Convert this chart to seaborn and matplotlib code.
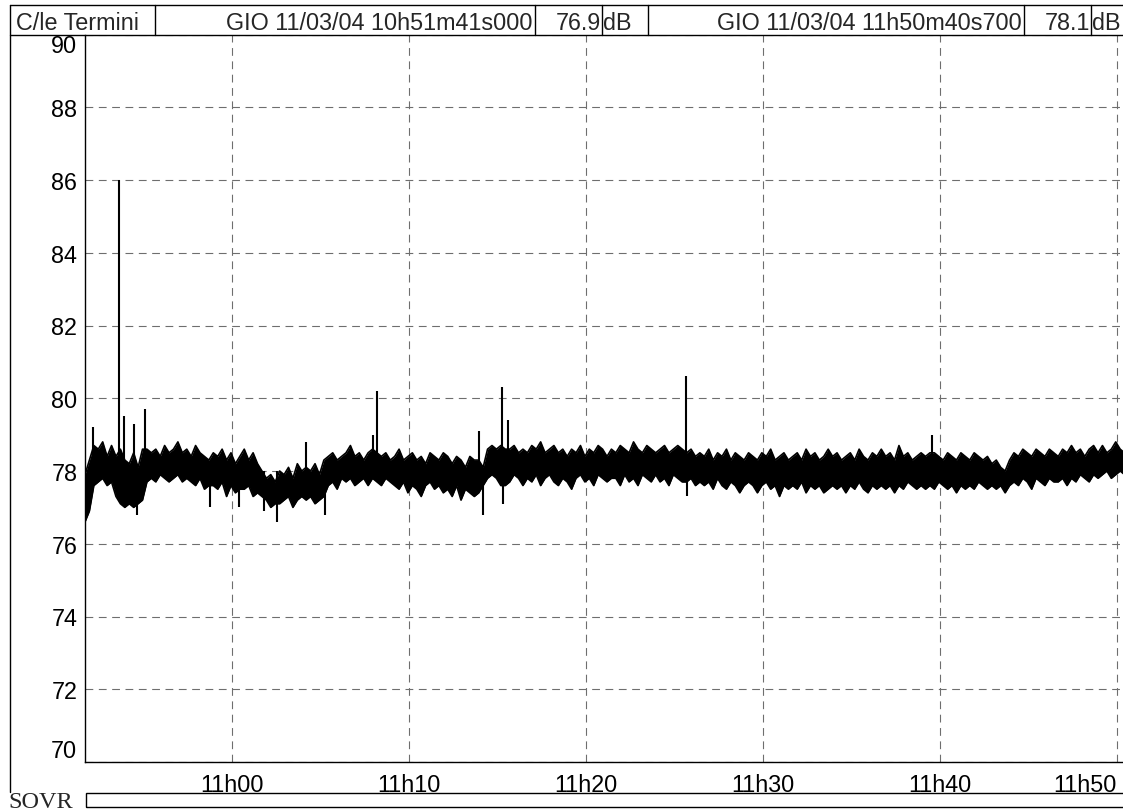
import numpy as np
import pandas as pd
import matplotlib
matplotlib.use('Agg')
import matplotlib.pyplot as plt
from matplotlib.lines import Line2D
from matplotlib.patches import Rectangle
import seaborn as sns

# header texts
station = 'C/le Termini'
start_label = 'GIO 11/03/04 10h51m41s000'
start_level = '76.9'
end_label = 'GIO 11/03/04 11h50m40s700'
end_level = '78.1'
unit = 'dB'
bar_label = 'SOVR'

# recording window
day = '2004-03-11 '
t_start = pd.Timestamp(day + '10:51:41')
t_end = pd.Timestamp(day + '11:50:41')
step = '15s'

# background level band per 15 s block (max / min)
level_max = [
    77.9, 78.3, 78.7, 78.6, 78.8, 78.4, 78.7, 78.4, 78.6, 78.3,
    78.2, 78.5, 78.1, 78.6, 78.6, 78.5, 78.6, 78.4, 78.7, 78.5,
    78.6, 78.8, 78.5, 78.6, 78.4, 78.7, 78.5, 78.4, 78.3, 78.5,
    78.4, 78.6, 78.3, 78.5, 78.2, 78.4, 78.6, 78.3, 78.5, 78.2,
    78.0, 77.8, 77.9, 77.7, 78.0, 77.9, 78.1, 77.8, 78.2, 78.0,
    78.1, 78.0, 78.2, 77.9, 78.3, 78.4, 78.5, 78.3, 78.4, 78.5,
    78.7, 78.4, 78.5, 78.3, 78.5, 78.6, 78.5, 78.4, 78.5, 78.3,
    78.4, 78.6, 78.3, 78.4, 78.5, 78.3, 78.4, 78.2, 78.5, 78.4,
    78.3, 78.5, 78.4, 78.2, 78.4, 78.3, 78.1, 78.4, 78.3, 78.3,
    78.1, 78.6, 78.7, 78.6, 78.7, 78.6, 78.6, 78.7, 78.5, 78.6,
    78.5, 78.7, 78.6, 78.8, 78.5, 78.6, 78.7, 78.5, 78.6, 78.4,
    78.6, 78.5, 78.7, 78.4, 78.6, 78.5, 78.7, 78.6, 78.4, 78.6,
    78.5, 78.7, 78.6, 78.5, 78.8, 78.6, 78.5, 78.7, 78.6, 78.5,
    78.6, 78.7, 78.5, 78.6, 78.7, 78.6, 78.5, 78.6, 78.4, 78.5,
    78.4, 78.6, 78.3, 78.5, 78.4, 78.6, 78.3, 78.5, 78.4, 78.3,
    78.5, 78.4, 78.3, 78.5, 78.4, 78.6, 78.3, 78.4, 78.5, 78.3,
    78.4, 78.5, 78.3, 78.6, 78.4, 78.5, 78.3, 78.4, 78.6, 78.4,
    78.5, 78.3, 78.4, 78.5, 78.3, 78.6, 78.4, 78.3, 78.5, 78.4,
    78.6, 78.4, 78.5, 78.3, 78.7, 78.4, 78.5, 78.3, 78.4, 78.5,
    78.4, 78.5, 78.5, 78.4, 78.3, 78.5, 78.4, 78.3, 78.5, 78.4,
    78.3, 78.5, 78.4, 78.3, 78.4, 78.2, 78.3, 78.1, 78.0, 78.3,
    78.5, 78.4, 78.6, 78.5, 78.4, 78.6, 78.5, 78.4, 78.6, 78.5,
    78.4, 78.6, 78.5, 78.7, 78.5, 78.6, 78.4, 78.6, 78.7, 78.5,
    78.7, 78.5, 78.6, 78.8, 78.6, 78.5,
]
level_min = [
    76.6, 76.9, 77.6, 77.7, 77.8, 77.6, 77.7, 77.3, 77.1, 77.0,
    77.1, 77.0, 77.1, 77.2, 77.7, 77.8, 77.7, 77.9, 77.8, 77.7,
    77.8, 77.9, 77.7, 77.8, 77.7, 77.6, 77.8, 77.5, 77.6, 77.6,
    77.5, 77.7, 77.3, 77.6, 77.4, 77.5, 77.5, 77.6, 77.3, 77.4,
    77.3, 77.2, 77.0, 77.1, 77.1, 77.2, 77.3, 77.0, 77.2, 77.3,
    77.2, 77.3, 77.1, 77.2, 77.3, 77.6, 77.7, 77.5, 77.8, 77.7,
    77.8, 77.6, 77.7, 77.8, 77.6, 77.8, 77.7, 77.6, 77.8, 77.7,
    77.6, 77.5, 77.7, 77.4, 77.6, 77.5, 77.3, 77.6, 77.7, 77.5,
    77.6, 77.4, 77.5, 77.3, 77.6, 77.2, 77.5, 77.4, 77.3, 77.4,
    77.6, 77.8, 77.9, 77.8, 77.6, 77.6, 77.7, 77.9, 77.8, 77.6,
    77.8, 77.7, 77.9, 77.6, 77.8, 77.9, 77.7, 77.6, 77.8, 77.7,
    77.5, 77.8, 77.9, 77.7, 77.8, 77.6, 77.9, 77.8, 77.7, 77.8,
    77.8, 77.6, 77.9, 77.7, 77.8, 77.6, 77.9, 77.8, 77.7, 77.9,
    77.7, 77.8, 77.6, 77.9, 77.8, 77.7, 77.7, 77.8, 77.6, 77.7,
    77.6, 77.7, 77.5, 77.8, 77.6, 77.5, 77.7, 77.6, 77.4, 77.6,
    77.7, 77.6, 77.4, 77.6, 77.7, 77.5, 77.6, 77.3, 77.6, 77.5,
    77.6, 77.5, 77.7, 77.4, 77.6, 77.5, 77.6, 77.4, 77.5, 77.6,
    77.5, 77.6, 77.4, 77.6, 77.5, 77.7, 77.5, 77.4, 77.6, 77.5,
    77.6, 77.5, 77.6, 77.4, 77.6, 77.5, 77.7, 77.6, 77.5, 77.6,
    77.5, 77.6, 77.5, 77.7, 77.6, 77.5, 77.6, 77.4, 77.6, 77.5,
    77.6, 77.5, 77.7, 77.6, 77.5, 77.6, 77.5, 77.6, 77.4, 77.6,
    77.7, 77.6, 77.8, 77.7, 77.5, 77.8, 77.7, 77.6, 77.8, 77.7,
    77.7, 77.8, 77.6, 77.8, 77.7, 77.9, 77.8, 77.7, 77.9, 77.8,
    77.9, 78.0, 77.8, 77.9, 78.0, 77.9,
]

# short peaks / dips outside the band
event_times = [
    '10:52:08', '10:53:36', '10:53:53', '10:54:27', '10:54:37', '10:55:04',
    '10:58:45', '11:00:23', '11:01:48', '11:02:32', '11:04:10', '11:05:15',
    '11:07:57', '11:08:11', '11:13:57', '11:14:10', '11:15:14', '11:15:17',
    '11:15:35', '11:25:38', '11:25:41', '11:39:32',
]
event_levels = [
    79.2, 86.0, 79.5, 79.3, 76.8, 79.7,
    77.0, 77.0, 76.9, 76.6, 78.8, 76.8,
    79.0, 80.2, 79.1, 76.8, 80.3, 77.1,
    79.4, 80.6, 77.3, 79.0,
]
event_base = 78.0

y_ticks = list(range(70, 91, 2))
x_ticks = ['11:00', '11:10', '11:20', '11:30', '11:40', '11:50']
x_tick_labels = ['11h00', '11h10', '11h20', '11h30', '11h40', '11h50']

band = pd.DataFrame({
    'time': pd.date_range(t_start, periods=len(level_max), freq=step),
    'max': level_max,
    'min': level_min,
})
events = pd.DataFrame({
    'time': [pd.Timestamp(day + t) for t in event_times],
    'level': event_levels,
})

sns.set_style('white')
plt.rcParams['font.family'] = ['Liberation Sans', 'DejaVu Sans']
FS = 16.8

W, H = 1123, 812
fig = plt.figure(figsize=(W / 100, H / 100), dpi=100)

def fx(px):
    return px / W

def fy(py):
    return 1 - py / H

top_px, bot_px, left_px = 35.5, 763, 85
ax = fig.add_axes([fx(left_px), fy(bot_px), fx(1129 - left_px), (bot_px - top_px) / H])

ax.fill_between(band['time'], band['min'], band['max'], color='black', lw=0, zorder=2)
sns.lineplot(data=band, x='time', y='max', color='black', lw=1.2, ax=ax, zorder=2)
sns.lineplot(data=band, x='time', y='min', color='black', lw=1.2, ax=ax, zorder=2)
ax.vlines(events['time'], event_base, events['level'], color='black', lw=1.5, zorder=2)

ax.set_xlim(t_start, t_end)
ax.set_ylim(70, 90)
ax.set_yticks(y_ticks)
ax.set_yticklabels([str(v) for v in y_ticks])
ylabs = ax.get_yticklabels()
ylabs[0].set_verticalalignment('bottom')
ylabs[-1].set_verticalalignment('top')

ax.set_xticks([pd.Timestamp(day + t) for t in x_ticks])
ax.set_xticklabels(x_tick_labels)
ax.get_xticklabels()[-1].set_horizontalalignment('right')
ax.set_xlabel('')
ax.set_ylabel('')

ax.grid(True, color='#6e6e6e', linestyle=(0, (7, 5)), lw=0.8)
ax.tick_params(axis='y', direction='out', length=5, width=1, pad=0.5, labelsize=FS, colors='black')
ax.tick_params(axis='x', direction='out', length=6, width=1, pad=2, labelsize=FS, colors='black')
for s in ['top', 'right']:
    ax.spines[s].set_visible(False)
for s in ['left', 'bottom']:
    ax.spines[s].set_color('black')
    ax.spines[s].set_linewidth(1)

# header row
def hline(y, x0, x1):
    fig.add_artist(Line2D([fx(x0), fx(x1)], [fy(y), fy(y)], transform=fig.transFigure,
                          color='black', lw=1, zorder=5))

def vline(x, y0, y1):
    fig.add_artist(Line2D([fx(x), fx(x)], [fy(y0), fy(y1)], transform=fig.transFigure,
                          color='black', lw=1, zorder=5))

hline(6, 10, 1130)
hline(top_px, 10, 1130)
vline(10, 6, 793)
for xs in [155, 535, 602, 648, 1024, 1091]:
    vline(xs, 6, top_px)

base = fy(29.5)
fig.text(fx(16), base, station, ha='left', va='baseline', fontsize=FS)
fig.text(fx(533), base, start_label, ha='right', va='baseline', fontsize=FS)
fig.text(fx(601), base, start_level, ha='right', va='baseline', fontsize=FS)
fig.text(fx(603), base, unit, ha='left', va='baseline', fontsize=FS)
fig.text(fx(1022), base, end_label, ha='right', va='baseline', fontsize=FS)
fig.text(fx(1090), base, end_level, ha='right', va='baseline', fontsize=FS)
fig.text(fx(1092), base, unit, ha='left', va='baseline', fontsize=FS)

# overload bar
fig.text(fx(8), fy(808), bar_label, ha='left', va='baseline', fontsize=17.5,
         family=['Liberation Serif', 'DejaVu Serif'])
fig.add_artist(Rectangle((fx(86), fy(808)), fx(1140 - 86), (808 - 794) / H,
                         transform=fig.transFigure, fill=False, edgecolor='black', lw=1))

fig.savefig('out.png', dpi=100)
